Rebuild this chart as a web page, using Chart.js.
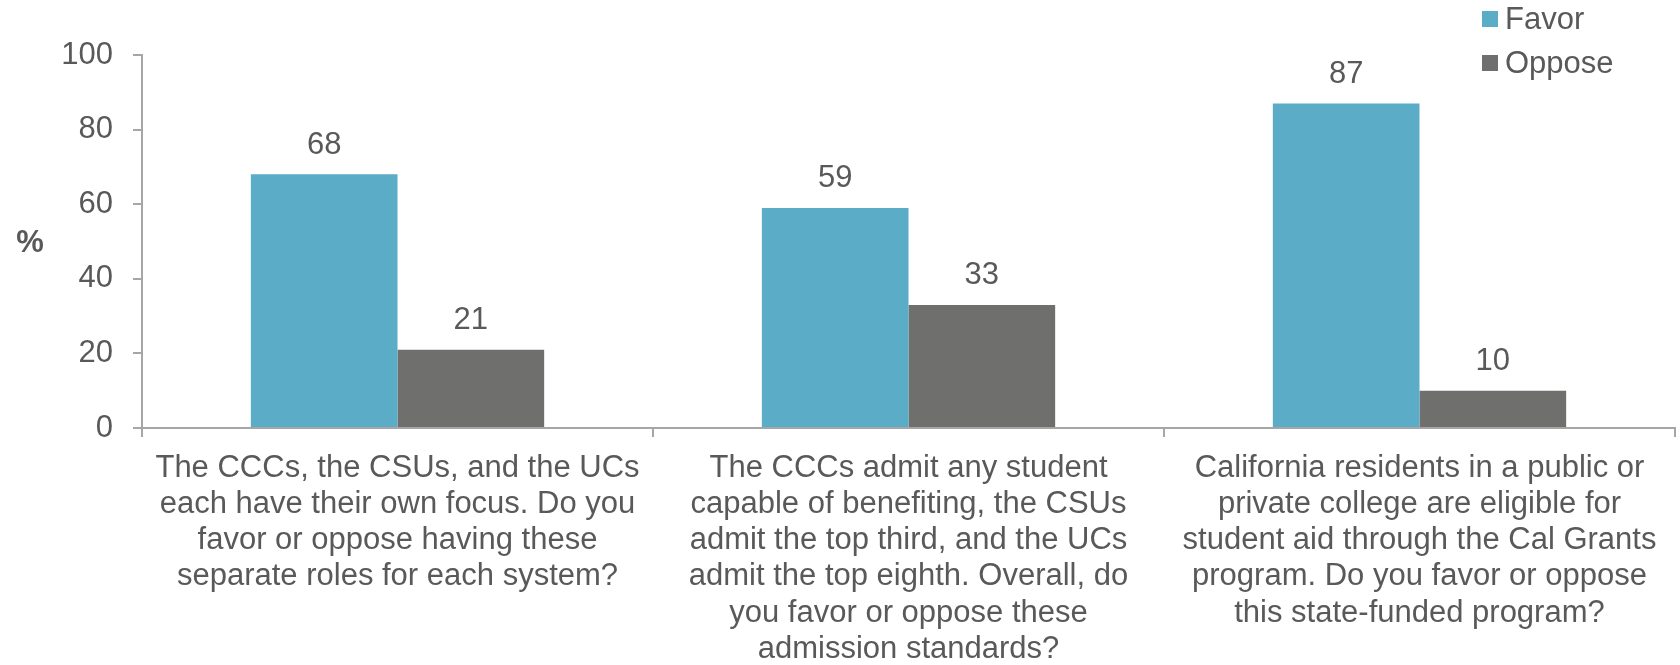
<!DOCTYPE html>
<html>
<head>
<meta charset="utf-8">
<script src="https://cdn.jsdelivr.net/npm/chart.js@4/dist/chart.umd.min.js"></script>
<style>
  html, body { margin: 0; padding: 0; background: #ffffff; }
  #wrap { position: relative; width: 1680px; height: 665px; }
</style>
</head>
<body>
<div id="wrap"><canvas id="c" width="1680" height="665"></canvas></div>
<script>
const categories = [
  ["The CCCs, the CSUs, and the UCs", "each have their own focus. Do you", "favor or oppose having these", "separate roles for each system?"],
  ["The CCCs admit any student", "capable of benefiting, the CSUs", "admit the top third, and the UCs", "admit the top eighth. Overall, do", "you favor or oppose these", "admission standards?"],
  ["California residents in a public or", "private college are eligible for", "student aid through the Cal Grants", "program. Do you favor or oppose", "this state-funded program?"]
];
const seriesNames = ["Favor", "Oppose"];
const favorValues = [68, 59, 87];
const opposeValues = [21, 33, 10];
const yTicks = [0, 20, 40, 60, 80, 100];
const yAxisTitle = "%";

const FONT = "'Liberation Sans', Arial, sans-serif";
const TEXT = "#595959";
const AXIS = "#A6A6A6";
const COLORS = ["#5BACC6", "#6F706D"];

const dataLabels = {
  id: 'dataLabels',
  afterDatasetsDraw(chart) {
    const ctx = chart.ctx;
    ctx.save();
    ctx.font = "31px " + FONT;
    ctx.fillStyle = TEXT;
    ctx.textAlign = 'center';
    ctx.textBaseline = 'middle';
    chart.data.datasets.forEach((ds, i) => {
      const meta = chart.getDatasetMeta(i);
      meta.data.forEach((bar, j) => {
        ctx.fillText(String(ds.data[j]), bar.x, bar.y - 29);
      });
    });
    ctx.restore();
  }
};

const customLegend = {
  id: 'customLegend',
  afterDraw(chart) {
    const ctx = chart.ctx;
    ctx.save();
    ctx.font = "31px " + FONT;
    ctx.textAlign = 'left';
    ctx.textBaseline = 'middle';
    chart.data.datasets.forEach((ds, i) => {
      const cy = 19 + i * 44;
      ctx.fillStyle = ds.backgroundColor;
      ctx.fillRect(1482, cy - 8, 16, 16);
      ctx.fillStyle = TEXT;
      ctx.fillText(ds.label, 1505, cy + 1);
    });
    // upright y-axis title
    ctx.font = "bold 31px " + FONT;
    ctx.textAlign = 'center';
    ctx.fillStyle = TEXT;
    ctx.fillText(yAxisTitle, 30, 243);
    ctx.restore();
  }
};

new Chart(document.getElementById('c'), {
  type: 'bar',
  data: {
    labels: categories,
    datasets: [
      { label: seriesNames[0], data: favorValues, backgroundColor: COLORS[0] },
      { label: seriesNames[1], data: opposeValues, backgroundColor: COLORS[1] }
    ]
  },
  options: {
    responsive: false,
    animation: false,
    devicePixelRatio: 1,
    categoryPercentage: 0.574,
    barPercentage: 1,
    layout: { padding: { top: 55, right: 5, bottom: 0, left: 0 } },
    plugins: {
      legend: { display: false },
      tooltip: { enabled: false },
      title: { display: false }
    },
    scales: {
      x: {
        grid: { drawOnChartArea: false, drawTicks: true, tickLength: 9, color: AXIS, lineWidth: 2, offset: true },
        border: { display: true, color: AXIS, width: 2 },
        ticks: { color: TEXT, font: { family: FONT, size: 31, lineHeight: 1.17 }, padding: 13, maxRotation: 0, minRotation: 0, autoSkip: false },
        afterFit(scale) { scale.height = 237; }
      },
      y: {
        min: 0, max: 100,
        afterBuildTicks(scale) { scale.ticks = yTicks.map(v => ({ value: v })); },
        grid: { drawOnChartArea: false, drawTicks: true, tickLength: 9, color: AXIS, lineWidth: 2 },
        border: { display: true, color: AXIS, width: 2 },
        ticks: { color: TEXT, font: { family: FONT, size: 31 }, padding: 20 },
        afterFit(scale) { scale.width = 142; }
      }
    }
  },
  plugins: [dataLabels, customLegend]
});
</script>
</body>
</html>
